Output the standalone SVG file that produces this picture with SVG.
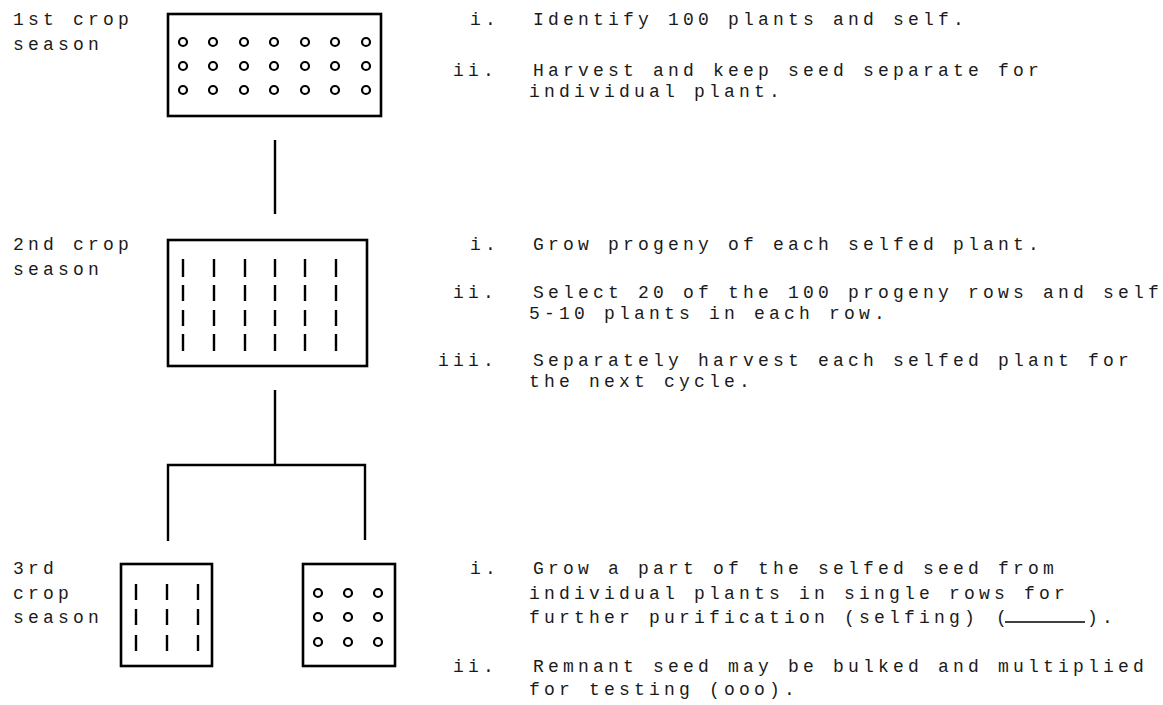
<svg xmlns="http://www.w3.org/2000/svg" width="1163" height="705" viewBox="0 0 1163 705">
<style>
  text { font-family: "Liberation Mono", "DejaVu Sans Mono", monospace; font-size: 18px; letter-spacing: 4.2px; fill: #1a1a1a; }
  .box { fill: none; stroke: #000; stroke-width: 2.6; }
  .dot { fill: none; stroke: #000; stroke-width: 2.2; }
  .bar { stroke: #000; stroke-width: 2.4; }
  .con { stroke: #000; stroke-width: 2.4; fill: none; }
</style>
<rect width="1163" height="705" fill="#fff"/>

<g id="season1">
  <text x="13" y="25">1st crop</text>
  <text x="13" y="50">season</text>
  <rect class="box" x="168" y="14" width="213" height="102"/>
  <g id="plants1">
    <circle class="dot" cx="183" cy="42" r="4"/><circle class="dot" cx="213" cy="42" r="4"/><circle class="dot" cx="244" cy="42" r="4"/><circle class="dot" cx="274" cy="42" r="4"/><circle class="dot" cx="305" cy="42" r="4"/><circle class="dot" cx="335" cy="42" r="4"/><circle class="dot" cx="366" cy="42" r="4"/>
    <circle class="dot" cx="183" cy="66" r="4"/><circle class="dot" cx="213" cy="66" r="4"/><circle class="dot" cx="244" cy="66" r="4"/><circle class="dot" cx="274" cy="66" r="4"/><circle class="dot" cx="305" cy="66" r="4"/><circle class="dot" cx="335" cy="66" r="4"/><circle class="dot" cx="366" cy="66" r="4"/>
    <circle class="dot" cx="183" cy="90" r="4"/><circle class="dot" cx="213" cy="90" r="4"/><circle class="dot" cx="244" cy="90" r="4"/><circle class="dot" cx="274" cy="90" r="4"/><circle class="dot" cx="305" cy="90" r="4"/><circle class="dot" cx="335" cy="90" r="4"/><circle class="dot" cx="366" cy="90" r="4"/>
  </g>
  <text x="470" y="25">i.</text>
  <text x="533" y="25">Identify 100 plants and self.</text>
  <text x="453" y="76">ii.</text>
  <text x="533" y="76">Harvest and keep seed separate for</text>
  <text x="529" y="97">individual plant.</text>
</g>

<g id="season2">
  <text x="13" y="250">2nd crop</text>
  <text x="13" y="275">season</text>
  <rect class="box" x="168" y="240" width="199" height="126"/>
  <g id="rows2">
    <path class="bar" d="M183 259V277M214 259V277M245 259V277M275 259V277M305 259V277M336 259V277"/>
    <path class="bar" d="M183 285V301M214 285V301M245 285V301M275 285V301M305 285V301M336 285V301"/>
    <path class="bar" d="M183 310V326M214 310V326M245 310V326M275 310V326M305 310V326M336 310V326"/>
    <path class="bar" d="M183 334V351M214 334V351M245 334V351M275 334V351M305 334V351M336 334V351"/>
  </g>
  <text x="470" y="250">i.</text>
  <text x="533" y="250">Grow progeny of each selfed plant.</text>
  <text x="453" y="298">ii.</text>
  <text x="533" y="298">Select 20 of the 100 progeny rows and self</text>
  <text x="529" y="319">5-10 plants in each row.</text>
  <text x="438" y="366">iii.</text>
  <text x="533" y="366">Separately harvest each selfed plant for</text>
  <text x="529" y="387">the next cycle.</text>
</g>

<g id="season3">
  <text x="13" y="574">3rd</text>
  <text x="13" y="599">crop</text>
  <text x="13" y="623">season</text>
  <g id="selfing">
    <rect class="box" x="121" y="564" width="91" height="102"/>
    <path class="bar" d="M136 584V600M167 584V600M198 584V600M136 609V625M167 609V625M198 609V625M136 635V651M167 635V651M198 635V651"/>
  </g>
  <g id="bulk">
    <rect class="box" x="303" y="564" width="92" height="102"/>
    <circle class="dot" cx="318" cy="593" r="4"/><circle class="dot" cx="348" cy="593" r="4"/><circle class="dot" cx="378" cy="593" r="4"/>
    <circle class="dot" cx="318" cy="617" r="4"/><circle class="dot" cx="348" cy="617" r="4"/><circle class="dot" cx="378" cy="617" r="4"/>
    <circle class="dot" cx="318" cy="642" r="4"/><circle class="dot" cx="348" cy="642" r="4"/><circle class="dot" cx="378" cy="642" r="4"/>
  </g>
  <text x="470" y="574">i.</text>
  <text x="533" y="574">Grow a part of the selfed seed from</text>
  <text x="529" y="599">individual plants in single rows for</text>
  <text x="529" y="623">further purification (selfing)</text>
  <text x="996" y="623">(</text>
  <line x1="1005" y1="622" x2="1085" y2="622" stroke="#000" stroke-width="1.4"/>
  <text x="1087" y="623">).</text>
  <text x="453" y="672">ii.</text>
  <text x="533" y="672">Remnant seed may be bulked and multiplied</text>
  <text x="529" y="695">for testing (ooo).</text>
</g>

<g id="connectors">
  <line class="con" x1="275" y1="140" x2="275" y2="214"/>
  <line class="con" x1="275" y1="390" x2="275" y2="465"/>
  <polyline class="con" points="168,541 168,465 365,465 365,540"/>
</g>
</svg>
